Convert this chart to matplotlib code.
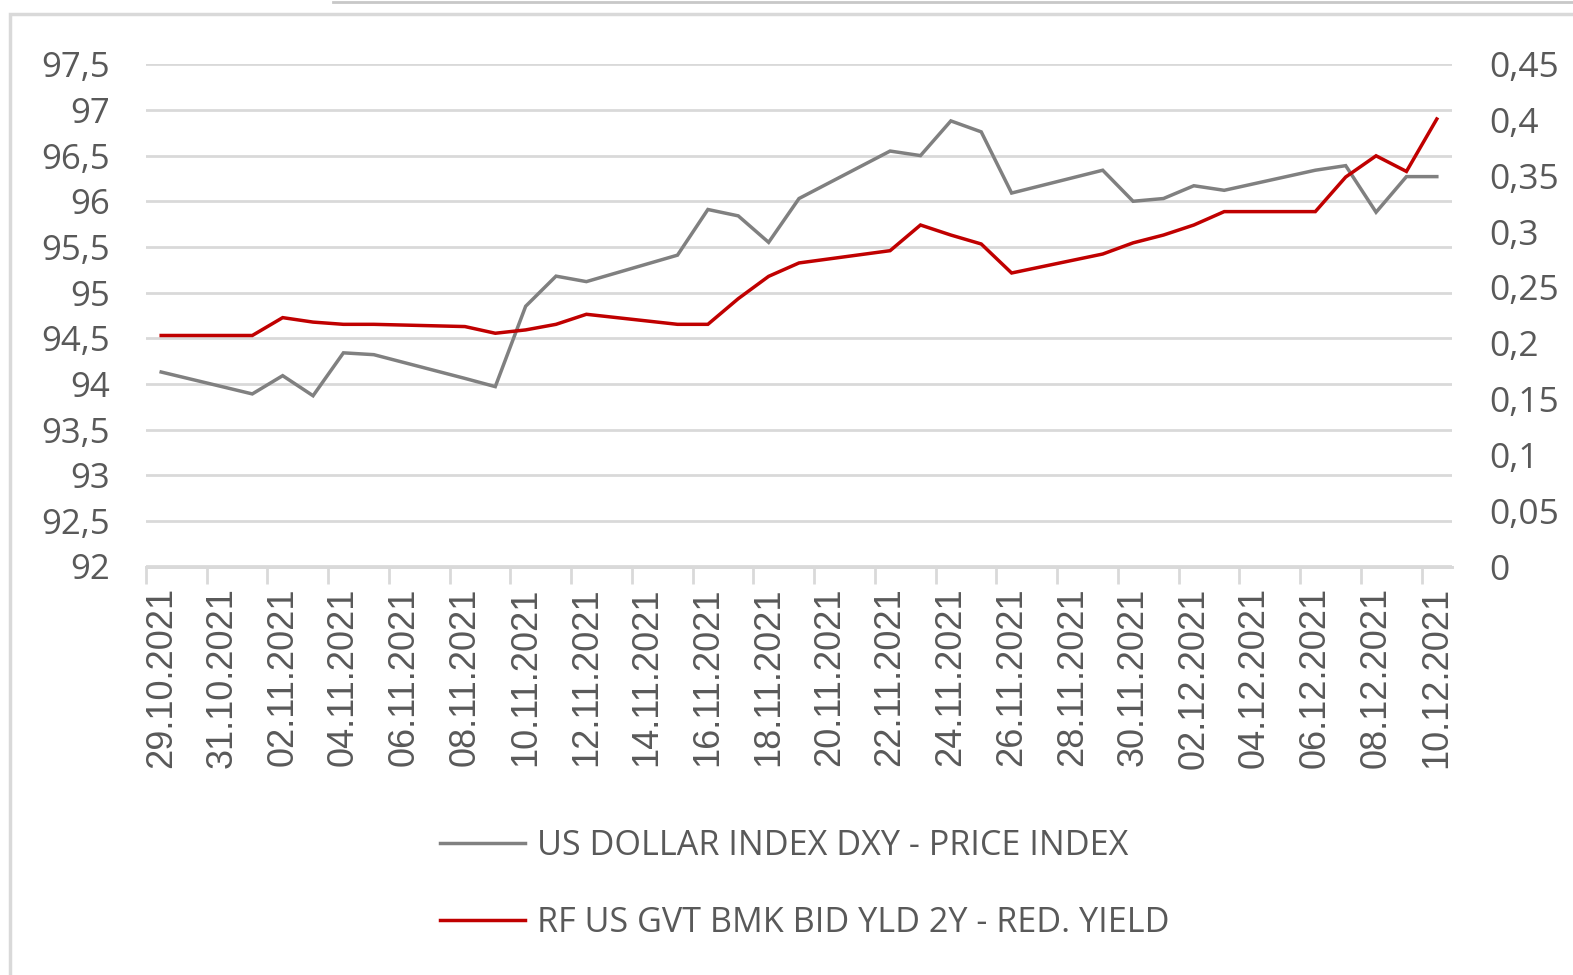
import pandas as pd
import matplotlib
matplotlib.use("Agg")
import matplotlib.pyplot as plt
import matplotlib.dates as mdates
from matplotlib.patches import Rectangle
from matplotlib.lines import Line2D

# Trading days shown on the chart
dates = [
    "29.10.2021", "01.11.2021", "02.11.2021", "03.11.2021", "04.11.2021",
    "05.11.2021", "08.11.2021", "09.11.2021", "10.11.2021", "11.11.2021",
    "12.11.2021", "15.11.2021", "16.11.2021", "17.11.2021", "18.11.2021",
    "19.11.2021", "22.11.2021", "23.11.2021", "24.11.2021", "25.11.2021",
    "26.11.2021", "29.11.2021", "30.11.2021", "01.12.2021", "02.12.2021",
    "03.12.2021", "06.12.2021", "07.12.2021", "08.12.2021", "09.12.2021",
    "10.12.2021",
]

# US dollar index (left axis)
dxy = [
    94.13, 93.89, 94.09, 93.87, 94.34, 94.32, 94.06, 93.97, 94.85, 95.18,
    95.12, 95.41, 95.91, 95.84, 95.55, 96.03, 96.55, 96.50, 96.88, 96.76,
    96.09, 96.34, 96.00, 96.03, 96.17, 96.12, 96.34, 96.39, 95.88, 96.27,
    96.27,
]

# 2Y treasury yield (right axis)
yld = [
    0.207, 0.207, 0.223, 0.219, 0.217, 0.217, 0.215, 0.209, 0.212, 0.217,
    0.226, 0.217, 0.217, 0.240, 0.260, 0.272, 0.283, 0.306, 0.297, 0.289,
    0.263, 0.280, 0.290, 0.297, 0.306, 0.318, 0.318, 0.349, 0.368, 0.354,
    0.401,
]

label_dxy = "US DOLLAR INDEX DXY - PRICE INDEX"
label_yld = "RF US GVT BMK BID YLD 2Y - RED. YIELD"

x = pd.to_datetime(dates, format="%d.%m.%Y")
txt = "#595959"
grid = "#d9d9d9"
num_font = "Open Sans"

fig = plt.figure(figsize=(15.73, 9.75), dpi=100)
ax = fig.add_axes([146 / 1573, 1 - 566.5 / 975, (1452 - 146) / 1573, (566.5 - 64.3) / 975])
ax2 = ax.twinx()

ax.plot(x, dxy, color="#808080", lw=2.5, label=label_dxy, solid_joinstyle="miter")
ax2.plot(x, yld, color="#c00000", lw=2.5, label=label_yld, solid_joinstyle="miter")

half = pd.Timedelta(hours=12)
ax.set_xlim(x[0] - half, x[-1] + half)
ax.set_ylim(92, 97.5)
ax2.set_ylim(0, 0.45)

# tick marks sit between categories, labels on every second day
ax.set_xticks(pd.date_range(x[0] - half, periods=22, freq="2D"))
ax.set_xticks(pd.date_range(x[0], x[-1], freq="2D"), minor=True)
ax.xaxis.set_major_formatter(plt.NullFormatter())
ax.xaxis.set_minor_formatter(mdates.DateFormatter("%d.%m.%Y"))
ax.tick_params(axis="x", which="major", length=12, width=2, color=grid)
ax.tick_params(axis="x", which="minor", length=0, pad=15, labelsize=26,
               labelcolor=txt, labelrotation=90)
for lab in ax.get_xticklabels(minor=True):
    lab.set_family("Liberation Sans")

yt_left = [92 + 0.5 * i for i in range(12)]
ax.set_yticks(yt_left)
ax.set_yticklabels([f"{v:g}".replace(".", ",") for v in yt_left], family=num_font)
yt_right = [0.05 * i for i in range(10)]
ax2.set_yticks(yt_right)
ax2.set_yticklabels([f"{round(v, 2):g}".replace(".", ",") for v in yt_right], family=num_font)
ax.tick_params(axis="y", length=0, pad=26, labelsize=25, labelcolor=txt)
ax2.tick_params(axis="y", length=0, pad=27, labelsize=25.5, labelcolor=txt)

ax.grid(axis="y", color=grid, lw=2)
ax.set_axisbelow(True)
for a in (ax, ax2):
    for s in ("left", "right", "top"):
        a.spines[s].set_visible(False)
    a.spines["bottom"].set_color(grid)
    a.spines["bottom"].set_linewidth(2)

handles = [Line2D([], [], color="#808080", lw=2.5), Line2D([], [], color="#c00000", lw=2.5)]
fig.legend(handles, [label_dxy, label_yld], loc="upper left",
           bbox_to_anchor=(440 / 1573, 1 - 829 / 975), frameon=False,
           borderpad=0, borderaxespad=0, handlelength=2.5, handletextpad=0.35,
           labelspacing=1.27, labelcolor=txt,
           prop={"family": num_font, "size": 24.6})

# chart frame, partly cut off like the screenshot
fig.patches.append(Rectangle((10 / 1573, -0.1), 1.2, 1 - 14 / 975 + 0.1,
                             transform=fig.transFigure, fill=False,
                             edgecolor=grid, lw=2.5))
fig.add_artist(Line2D([333 / 1573, 1], [1 - 1.5 / 975] * 2, transform=fig.transFigure,
                      color="#c8c8c8", lw=2))

fig.savefig("out.png", dpi=100)
